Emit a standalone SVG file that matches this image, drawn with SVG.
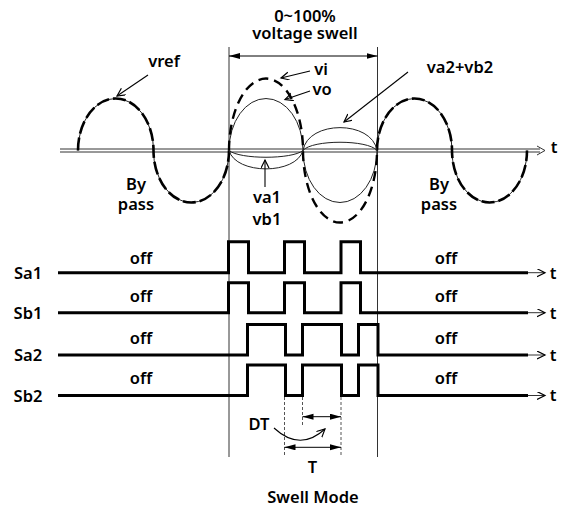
<svg xmlns="http://www.w3.org/2000/svg" width="566" height="508" viewBox="0 0 566 508">
<defs>
<marker id="open" markerWidth="10" markerHeight="10" refX="8" refY="4" orient="auto" markerUnits="userSpaceOnUse"><path d="M0,0 L8,4 L0,8" fill="none" stroke="#000" stroke-width="1.2"/></marker>
<marker id="fill" markerWidth="12" markerHeight="8" refX="11" refY="3" orient="auto-start-reverse" markerUnits="userSpaceOnUse"><path d="M0,0 L11,3 L0,6 z" fill="#000"/></marker>
</defs>
<style>
text{font-family:"Noto Sans","DejaVu Sans",sans-serif;font-size:16.5px;font-weight:600;fill:#000;text-anchor:middle}
.thin{fill:none;stroke:#222;stroke-width:1}
.dash{fill:none;stroke:#000;stroke-width:2.6;stroke-dasharray:13 4}
.vi{fill:none;stroke:#000;stroke-width:2.4;stroke-dasharray:10 6}
.pulse{fill:none;stroke:#000;stroke-width:3;stroke-linejoin:miter}
.lbl{fill:none;stroke:#000;stroke-width:1.1;marker-end:url(#open)}
.tarr{fill:none;stroke:#333;stroke-width:1;marker-end:url(#open)}
.guide{fill:none;stroke:#333;stroke-width:1}
.dt{fill:none;stroke:#555;stroke-width:1;stroke-dasharray:3 2}
.dim{fill:none;stroke:#000;stroke-width:1;marker-start:url(#fill);marker-end:url(#fill)}
</style>
<rect width="566" height="508" fill="#fff"/>

<g id="guides">
<line class="guide" x1="229" y1="47" x2="229" y2="457"/>
<line class="guide" x1="377.5" y1="47" x2="377.5" y2="457"/>
<line class="dt" x1="284.5" y1="397" x2="284.5" y2="457"/>
<line class="dt" x1="302.5" y1="397" x2="302.5" y2="425"/>
<line class="dt" x1="341" y1="397" x2="341" y2="457"/>
</g>

<g id="axis">
<line class="guide" x1="60" y1="149" x2="540" y2="149"/>
<line class="guide" x1="60" y1="152" x2="540" y2="152"/>
<path class="guide" d="M537,146 L545,150.5 L537,155"/>
<text x="554" y="153">t</text>
</g>

<g id="waveforms">
<path class="thin" d="M78,150.5 A37.75,52 0 0 1 153.5,150.5 A37.75,52 0 0 0 229,150.5"/>
<path class="dash" d="M78,150.5 A37.75,52 0 0 1 153.5,150.5 A37.75,52 0 0 0 229,150.5"/>
<path class="thin" d="M377,150.5 A37.5,52 0 0 1 452,150.5 A37.5,52 0 0 0 527,150.5"/>
<path class="dash" d="M377,150.5 A37.5,52 0 0 1 452,150.5 A37.5,52 0 0 0 527,150.5"/>
<path class="thin" d="M229,150.5 A37,52 0 0 1 303,150.5 A37,52 0 0 0 377,150.5"/>
<path class="vi" d="M229,150.5 A37,72 0 0 1 303,150.5 A37,72 0 0 0 377,150.5"/>
<path class="thin" d="M229,150.5 C236,175 296,175 303,150.5"/>
<path class="thin" d="M229,150.5 C240,159.5 292,159.5 303,150.5"/>
<path class="thin" d="M303,150.5 C308,120 372,120 377,150.5"/>
<path class="thin" d="M303,150.5 C312,139.5 368,139.5 377,150.5"/>
</g>

<g id="pulses">
<path class="pulse" d="M58,272.7 H228.5 V241.7 H248.5 V272.7 H284.5 V241.7 H304.5 V272.7 H341 V241.7 H360.5 V272.7 H528"/>
<path class="pulse" d="M58,312.7 H228.5 V282.7 H248.5 V312.7 H284.5 V282.7 H304.5 V312.7 H341 V282.7 H360.5 V312.7 H528"/>
<path class="pulse" d="M58,355 H247.5 V324.5 H285.5 V355 H302.5 V324.5 H341.5 V355 H358.5 V324.5 H378 V355 H528"/>
<path class="pulse" d="M58,395.5 H247.5 V365 H285.5 V395.5 H302.5 V365 H341.5 V395.5 H358.5 V365 H378 V395.5 H528"/>
</g>

<g id="connectors">
<line class="dim" x1="229" y1="56" x2="377.5" y2="56"/>
<line class="lbl" x1="148" y1="75" x2="117" y2="96"/>
<line class="lbl" x1="310" y1="71" x2="281" y2="78"/>
<line class="lbl" x1="310" y1="91" x2="285" y2="99.5"/>
<line class="lbl" x1="408" y1="72" x2="344" y2="122"/>
<line class="lbl" x1="265" y1="187" x2="265" y2="160"/>
<line class="tarr" x1="528" y1="272.7" x2="545" y2="272.7"/>
<line class="tarr" x1="528" y1="312.7" x2="545" y2="312.7"/>
<line class="tarr" x1="528" y1="355" x2="545" y2="355"/>
<line class="tarr" x1="528" y1="395.5" x2="545" y2="395.5"/>
<line class="dim" x1="302.5" y1="416.7" x2="341" y2="416.7"/>
<line class="dim" x1="284.5" y1="447.3" x2="341" y2="447.3"/>
<path class="lbl" d="M274,428 Q300,452 325,429"/>
</g>

<g id="labels">
<text x="305" y="22">0~100%</text>
<text x="305" y="38.5">voltage swell</text>
<text x="164" y="67">vref</text>
<text x="321" y="75">vi</text>
<text x="322" y="95">vo</text>
<text x="460" y="73">va2+vb2</text>
<text x="267" y="203">va1</text>
<text x="267" y="225">vb1</text>
<text x="136" y="190">By</text>
<text x="136" y="210">pass</text>
<text x="439" y="190">By</text>
<text x="439" y="210">pass</text>
<text x="28" y="279">Sa1</text>
<text x="28" y="319">Sb1</text>
<text x="28" y="361">Sa2</text>
<text x="28" y="401.5">Sb2</text>
<text x="141" y="264">off</text>
<text x="141" y="302">off</text>
<text x="141" y="344">off</text>
<text x="141" y="384">off</text>
<text x="446" y="264">off</text>
<text x="446" y="302">off</text>
<text x="446" y="344">off</text>
<text x="446" y="384">off</text>
<text x="553" y="278.5">t</text>
<text x="553" y="318.5">t</text>
<text x="553" y="361">t</text>
<text x="553" y="401">t</text>
<text x="259" y="430">DT</text>
<text x="312.5" y="473">T</text>
<text x="313" y="503">Swell Mode</text>
</g>
</svg>
